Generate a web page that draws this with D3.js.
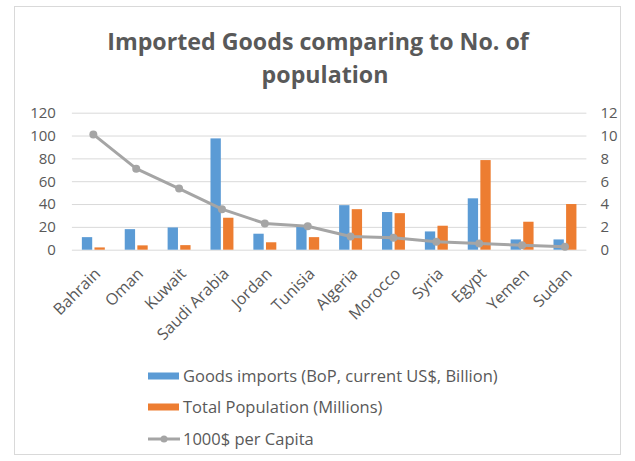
<!DOCTYPE html>
<html>
<head>
<meta charset="utf-8">
<script src="https://cdn.jsdelivr.net/npm/d3@7"></script>
<style>
  html, body { margin: 0; padding: 0; background: #fff; }
  svg { display: block; font-family: "Open Sans", "Noto Sans", sans-serif; }
</style>
</head>
<body>
<svg id="chart" width="635" height="461"></svg>
<script>
const categories = ["Bahrain","Oman","Kuwait","Saudi Arabia","Jordan","Tunisia","Algeria","Morocco","Syria","Egypt","Yemen","Sudan"];
const goodsImports = [11, 18, 19.5, 97.5, 14, 20, 39, 33, 16, 45, 9, 9];
const population = [2, 3.8, 4, 28, 6.5, 11, 35.5, 32, 21, 78.5, 24.5, 40];
const perCapita = [10.1, 7.1, 5.35, 3.55, 2.3, 2.05, 1.15, 1.05, 0.7, 0.55, 0.38, 0.25];
const leftTicks = [0, 20, 40, 60, 80, 100, 120];
const rightTicks = [0, 2, 4, 6, 8, 10, 12];
const seriesNames = ["Goods imports (BoP, current US$, Billion)", "Total Population (Millions)", "1000$ per Capita"];
const titleLines = ["Imported Goods comparing to No. of", "population"];

const colors = { imports: "#5B9BD5", population: "#ED7D31", line: "#A5A5A5", text: "#595959", grid: "#D9D9D9" };

const svg = d3.select("#chart");

// chart border
svg.append("rect").attr("x", 14.5).attr("y", 6.5).attr("width", 606).attr("height", 448)
  .attr("fill", "#fff").attr("stroke", "#D9D9D9").attr("stroke-width", 1);

const plot = { left: 71.9, right: 586.4, top: 112.7, bottom: 249.7 };

const x0 = d3.scaleBand().domain(categories).range([plot.left, plot.right]).paddingInner(0).paddingOuter(0);
const x1 = d3.scaleBand().domain(["imports", "population"]).range([0, x0.bandwidth()]).paddingInner(0.18).paddingOuter(0.79);
const yL = d3.scaleLinear().domain([0, 120]).range([plot.bottom, plot.top]);
const yR = d3.scaleLinear().domain([0, 12]).range([plot.bottom, plot.top]);

// gridlines
const grid = svg.append("g").attr("transform", `translate(${plot.left},0)`)
  .call(d3.axisLeft(yL).tickValues(leftTicks).tickSize(-(plot.right - plot.left)).tickFormat(""));
grid.select(".domain").remove();
grid.selectAll("line").attr("stroke", colors.grid).attr("stroke-width", 1);

// left axis labels
const axL = svg.append("g").attr("transform", `translate(${plot.left},0)`)
  .call(d3.axisLeft(yL).tickValues(leftTicks).tickSize(0).tickPadding(16));
axL.select(".domain").remove();
axL.selectAll("text").attr("fill", colors.text).style("font-size", "15px").style("font-family", "Open Sans");

// right axis labels
const axR = svg.append("g").attr("transform", `translate(${plot.right},0)`)
  .call(d3.axisRight(yR).tickValues(rightTicks).tickSize(0).tickPadding(14));
axR.select(".domain").remove();
axR.selectAll("text").attr("fill", colors.text).style("font-size", "15px").style("font-family", "Open Sans");

// bars
const groups = svg.append("g").selectAll("g").data(categories).join("g")
  .attr("transform", d => `translate(${x0(d)},0)`);
groups.append("rect")
  .attr("x", x1("imports")).attr("width", x1.bandwidth())
  .attr("y", (d, i) => yL(goodsImports[i])).attr("height", (d, i) => yL(0) - yL(goodsImports[i]))
  .attr("fill", colors.imports);
groups.append("rect")
  .attr("x", x1("population")).attr("width", x1.bandwidth())
  .attr("y", (d, i) => yL(population[i])).attr("height", (d, i) => yL(0) - yL(population[i]))
  .attr("fill", colors.population);

// line
const cx = d => x0(d) + x0.bandwidth() / 2;
const line = d3.line().x((d, i) => cx(categories[i])).y(d => yR(d));
svg.append("path").datum(perCapita).attr("d", line)
  .attr("fill", "none").attr("stroke", colors.line).attr("stroke-width", 3).attr("stroke-linejoin", "round");
svg.append("g").selectAll("circle").data(perCapita).join("circle")
  .attr("cx", (d, i) => cx(categories[i])).attr("cy", d => yR(d)).attr("r", 4)
  .attr("fill", colors.line);

// x labels
svg.append("g").selectAll("text").data(categories).join("text")
  .attr("transform", d => `translate(${cx(d) + 8},${plot.bottom + 25}) rotate(-45)`)
  .attr("text-anchor", "end")
  .attr("fill", colors.text).style("font-size", "16px")
  .text(d => d);

// title
const title = svg.append("g").attr("fill", colors.text).style("font-weight", "bold").style("font-size", "23.2px");
title.append("text").attr("x", 318).attr("y", 50).attr("text-anchor", "middle").text(titleLines[0]);
title.append("text").attr("x", 325).attr("y", 83).attr("text-anchor", "middle").text(titleLines[1]);

// legend
const leg = svg.append("g").style("font-size", "16.5px").attr("fill", colors.text);
const legY = [376, 407, 439];
leg.append("rect").attr("x", 148).attr("y", legY[0] - 3.5).attr("width", 31).attr("height", 7).attr("fill", colors.imports);
leg.append("rect").attr("x", 148).attr("y", legY[1] - 3.5).attr("width", 31).attr("height", 7).attr("fill", colors.population);
leg.append("line").attr("x1", 148).attr("x2", 180).attr("y1", legY[2]).attr("y2", legY[2])
  .attr("stroke", colors.line).attr("stroke-width", 3);
leg.append("circle").attr("cx", 164).attr("cy", legY[2]).attr("r", 3.5).attr("fill", colors.line);
seriesNames.forEach((s, i) => {
  leg.append("text").attr("x", 183).attr("y", legY[i]).attr("dy", "0.35em").text(s);
});
</script>
</body>
</html>
